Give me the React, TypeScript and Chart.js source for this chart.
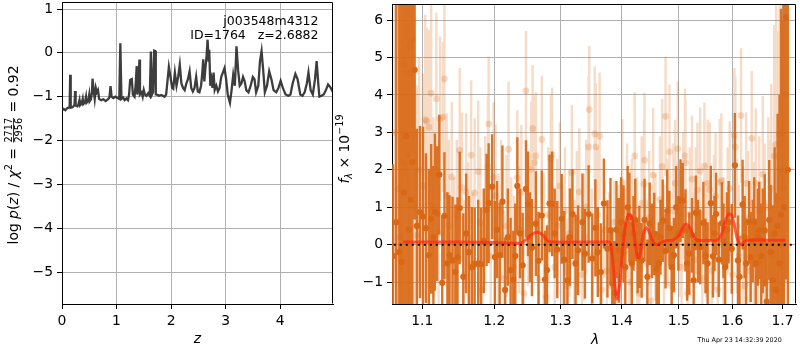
import React, { useEffect, useRef } from "react";
import { Chart, registerables } from "chart.js";
Chart.register(...registerables);

const FONT = "'DejaVu Sans', sans-serif";
const TICK_FONT = { family: FONT, size: 13.9 };

// ---------------- left panel: log p(z) ----------------
const zTicks = [0, 1, 2, 3, 4];
const logPTicks = [-5, -4, -3, -2, -1, 0, 1];
const zGrid = [
  0.0, 0.03, 0.06, 0.09, 0.12, 0.14, 0.15, 0.16, 0.19, 0.21,
  0.23, 0.24, 0.25, 0.28, 0.3, 0.32, 0.33, 0.36, 0.38, 0.39,
  0.42, 0.44, 0.45, 0.48, 0.5, 0.51, 0.53, 0.55, 0.56, 0.58,
  0.6, 0.62, 0.64, 0.66, 0.68, 0.72, 0.76, 0.8, 0.84, 0.87,
  0.89, 0.91, 0.94, 0.98, 1.02, 1.05, 1.07, 1.09, 1.12, 1.15,
  1.18, 1.21, 1.23, 1.25, 1.28, 1.3, 1.33, 1.35, 1.37, 1.38,
  1.4, 1.42, 1.43, 1.46, 1.48, 1.5, 1.52, 1.55, 1.58, 1.61,
  1.63, 1.65, 1.67, 1.69, 1.71, 1.72, 1.75, 1.78, 1.82, 1.85,
  1.88, 1.91, 1.93, 1.96, 1.99, 2.02, 2.04, 2.07, 2.1, 2.13,
  2.16, 2.19, 2.22, 2.25, 2.28, 2.31, 2.34, 2.37, 2.4, 2.43,
  2.46, 2.49, 2.52, 2.55, 2.57, 2.59, 2.61, 2.63, 2.65, 2.67,
  2.69, 2.7, 2.72, 2.74, 2.76, 2.78, 2.8, 2.83, 2.86, 2.89,
  2.92, 2.95, 2.98, 3.01, 3.04, 3.08, 3.11, 3.14, 3.17, 3.2,
  3.23, 3.26, 3.29, 3.32, 3.35, 3.38, 3.42, 3.46, 3.5, 3.53,
  3.56, 3.6, 3.63, 3.66, 3.69, 3.72, 3.76, 3.8, 3.84, 3.88,
  3.93, 3.97, 4.01, 4.05, 4.1, 4.15, 4.19, 4.23, 4.28, 4.32,
  4.37, 4.41, 4.45, 4.49, 4.52, 4.56, 4.6, 4.64, 4.67, 4.7,
  4.72, 4.76, 4.8, 4.84, 4.88, 4.92, 4.97,
];
const logPz = [
  -1.3, -1.28, -1.31, -1.27, -1.25, -1.24, -0.5, -1.25, -1.24, -1.22,
  -1.18, -0.87, -1.2, -1.22, -1.18, -1.08, -1.2, -1.16, -1.05, -1.17,
  -1.13, -1.0, -1.14, -1.1, -0.95, -1.1, -1.06, -0.9, -0.59, -0.85,
  -1.05, -0.8, -0.9, -0.85, -1.05, -1.08, -1.06, -1.1, -1.06, -1.02,
  -0.76, -1.0, -1.03, -1.0, -1.03, -1.05, 0.22, -1.05, -1.02, -1.08,
  -1.04, -1.08, -0.95, -0.62, -0.6, -0.95, -1.0, -0.75, -0.3, -0.95,
  -0.8, -0.15, -0.95, -0.9, -1.0, -0.85, -0.95, -0.98, -0.92, -0.98,
  0.03, -0.95, -0.9, 0.05, 0.04, -0.95, -0.96, -0.98, -0.96, -0.98,
  -1.0, -0.95, -0.7, -0.32, -0.55, -0.8, -0.82, -0.45, -0.75, -0.55,
  -0.27, -0.7, -0.8, -0.85, -0.7, -0.6, -0.42, -0.8, -0.88, -0.8,
  -0.55, -0.88, -0.9, -0.75, -0.5, -0.15, -0.65, -0.35, -0.1, 0.3,
  -0.2, 0.07, -0.75, -0.6, -0.8, -0.45, -0.85, -0.75, -0.88, -0.8,
  -0.55, -0.45, -0.35, -0.6, -0.95, -1.14, -0.85, -0.5, -0.75, 0.15,
  -0.4, -0.75, -0.7, -0.55, -0.65, -0.85, -0.9, -0.75, -0.55, -0.6,
  -0.9, -0.75, -0.2, 0.04, -0.4, -0.9, -0.75, -0.42, -0.6, -0.85,
  -0.9, -0.8, -0.64, -0.8, -0.95, -0.98, -0.95, -0.7, -0.48, -0.6,
  -0.95, -0.98, -0.9, -0.7, -0.45, -0.85, -0.95, -0.6, -0.19, -0.7,
  -1.0, -0.98, -0.95, -0.85, -0.72, -0.78, -0.9,
];

// ---------------- right panel: spectrum ----------------
const waveTicks = [1.1, 1.2, 1.3, 1.4, 1.5, 1.6, 1.7];
const fluxTicks = [-1, 0, 1, 2, 3, 4, 5, 6];

const darkWave = [
  1.062, 1.066, 1.07, 1.073, 1.076, 1.079, 1.082, 1.085, 1.087, 1.09,
  1.093, 1.097, 1.101, 1.105, 1.109, 1.112, 1.115, 1.117, 1.12, 1.123,
  1.127, 1.13, 1.134, 1.137, 1.141, 1.145, 1.148, 1.151, 1.156, 1.16,
  1.164, 1.168, 1.172, 1.177, 1.181, 1.185, 1.189, 1.192, 1.197, 1.201,
  1.204, 1.208, 1.212, 1.216, 1.22, 1.224, 1.228, 1.231, 1.234, 1.238,
  1.242, 1.247, 1.25, 1.253, 1.256, 1.262, 1.266, 1.271, 1.276, 1.279,
  1.283, 1.287, 1.291, 1.295, 1.302, 1.306, 1.311, 1.315, 1.319, 1.324,
  1.328, 1.335, 1.339, 1.345, 1.351, 1.356, 1.36, 1.365, 1.37, 1.376,
  1.381, 1.384, 1.388, 1.391, 1.395, 1.399, 1.403, 1.406, 1.41, 1.413,
  1.417, 1.42, 1.423, 1.427, 1.43, 1.434, 1.439, 1.444, 1.448, 1.452,
  1.456, 1.46, 1.464, 1.467, 1.471, 1.476, 1.479, 1.483, 1.487, 1.491,
  1.495, 1.499, 1.503, 1.507, 1.512, 1.515, 1.519, 1.524, 1.527, 1.531,
  1.535, 1.539, 1.545, 1.549, 1.553, 1.559, 1.563, 1.566, 1.569, 1.574,
  1.58, 1.583, 1.586, 1.59, 1.593, 1.599, 1.605, 1.611, 1.614, 1.62,
  1.624, 1.627, 1.633, 1.636, 1.64, 1.643, 1.646, 1.65, 1.653, 1.657,
  1.66, 1.664, 1.668, 1.673, 1.676, 1.68, 1.684, 1.687, 1.69, 1.694,
  1.697, 1.7, 1.703, 1.707, 1.711,
];
const darkFlux = [
  -0.3, 0.6, -0.2, -0.46, 1.4, 2.9, 0.4, 1.2, 2.2, 4.67,
  0.5, 0.87, 0.75, 0.44, -0.28, 0.69, 0.2, 0.87, 0.83, 1.87,
  -1.02, 0.77, -0.5, -0.28, -0.42, -0.73, -0.33, 0.98, -0.86, 0.3,
  -0.2, -0.6, -0.52, -0.5, -0.52, 0.1, 0.93, 1.11, 1.55, -0.33,
  0.4, -0.28, 1.15, -1.21, 0.2, -0.68, -0.93, -0.3, 1.57, 0.3,
  -0.55, 1.49, 1.09, 0.2, -0.08, 0.56, -0.43, 0.78, -0.93, -0.68,
  1.1, 1.09, 0.3, -0.13, 0.69, -0.4, -0.95, 0.2, 0.82, -0.5,
  -0.15, 0.6, -0.24, 0.82, -0.37, 0.45, -0.2, -0.73, 1.1, -0.11,
  0.38, -1.04, -1.3, 0.4, -0.15, 0.6, 0.29, -0.6, 1.0, 0.73,
  -0.5, 0.3, 0.66, -0.3, -0.06, -0.42, 0.66, -0.86, 0.56, 0.1,
  0.29, -0.64, -0.5, 0.2, 0.64, -0.17, 0.9, 0.44, -0.6, -0.28,
  1.0, 0.3, 1.18, 1.18, 0.38, -0.5, -0.24, 0.25, -0.95, 0.85,
  0.1, -0.06, 0.58, -0.3, -0.5, 1.11, -0.31, 0.3, 0.82, -0.4,
  0.57, 0.1, -0.6, 0.4, 0.6, -0.11, 2.12, -0.42, -0.86, 1.07,
  0.2, -0.5, 0.6, -0.33, 0.1, 0.6, -0.5, 0.2, 0.38, -0.3,
  0.1, 0.38, -1.52, 0.66, -0.2, -0.95, 0.3, -1.21, 0.5, -0.5,
  0.8, 0.0, 1.0, 6.07, 2.0,
];
const darkErr = [
  2.45, 6.5, 7.0, 7.5, 6.0, 5.0, 6.5, 5.5, 5.0, 4.0,
  2.6, 2.3, 2.4, 2.0, 2.3, 2.0, 1.9, 2.1, 1.8, 1.6,
  1.8, 1.7, 1.9, 1.6, 1.7, 1.8, 1.6, 1.5, 1.7, 1.6,
  1.5, 1.6, 1.5, 1.7, 1.5, 1.4, 1.5, 1.6, 1.4, 1.5,
  1.3, 1.4, 1.5, 1.4, 1.3, 1.4, 1.3, 1.4, 1.3, 1.2,
  1.4, 1.3, 1.4, 1.2, 1.3, 1.4, 1.3, 1.2, 1.3, 1.2,
  1.3, 1.4, 1.2, 1.3, 1.2, 1.3, 1.2, 1.3, 1.2, 1.3,
  1.2, 1.3, 1.2, 1.3, 1.2, 1.3, 1.2, 1.3, 1.2, 1.3,
  1.4, 1.5, 1.4, 1.3, 1.4, 1.2, 1.3, 1.2, 1.1, 1.2,
  1.1, 1.0, 1.1, 1.0, 1.1, 1.0, 1.1, 1.0, 1.1, 1.0,
  1.1, 1.0, 1.1, 1.0, 1.1, 1.0, 1.1, 1.0, 1.1, 1.0,
  1.1, 1.0, 1.1, 1.0, 1.1, 1.0, 1.1, 1.0, 1.1, 1.0,
  1.1, 1.0, 1.1, 1.0, 1.1, 1.0, 1.1, 1.0, 1.1, 1.0,
  1.1, 1.0, 1.1, 1.0, 1.1, 1.2, 1.4, 1.2, 1.1, 1.2,
  1.1, 1.2, 1.1, 1.2, 1.1, 1.2, 1.2, 1.3, 1.3, 1.4,
  1.4, 1.5, 1.6, 1.6, 1.8, 2.0, 2.3, 2.6, 3.0, 4.5,
  5.5, 6.0, 6.5, 7.0, 8.0,
];

const lightWave = [
  1.064, 1.068, 1.071, 1.074, 1.077, 1.08, 1.082, 1.083, 1.087, 1.09,
  1.093, 1.096, 1.101, 1.104, 1.106, 1.109, 1.112, 1.115, 1.119, 1.122,
  1.124, 1.128, 1.13, 1.133, 1.136, 1.14, 1.143, 1.147, 1.151, 1.154,
  1.157, 1.16, 1.163, 1.167, 1.17, 1.172, 1.177, 1.18, 1.183, 1.187,
  1.191, 1.192, 1.195, 1.199, 1.202, 1.206, 1.21, 1.214, 1.218, 1.221,
  1.225, 1.229, 1.234, 1.237, 1.24, 1.244, 1.247, 1.25, 1.255, 1.257,
  1.26, 1.262, 1.266, 1.271, 1.274, 1.278, 1.281, 1.285, 1.287, 1.291,
  1.295, 1.299, 1.303, 1.307, 1.311, 1.314, 1.318, 1.322, 1.326, 1.33,
  1.334, 1.338, 1.341, 1.345, 1.346, 1.35, 1.355, 1.357, 1.36, 1.363,
  1.367, 1.371, 1.375, 1.379, 1.383, 1.387, 1.391, 1.395, 1.398, 1.401,
  1.405, 1.409, 1.413, 1.417, 1.422, 1.426, 1.43, 1.434, 1.438, 1.439,
  1.443, 1.447, 1.45, 1.454, 1.458, 1.462, 1.466, 1.47, 1.473, 1.476,
  1.48, 1.483, 1.487, 1.49, 1.493, 1.498, 1.501, 1.505, 1.508, 1.511,
  1.512, 1.516, 1.52, 1.524, 1.528, 1.531, 1.534, 1.539, 1.543, 1.547,
  1.55, 1.553, 1.557, 1.561, 1.565, 1.568, 1.572, 1.576, 1.579, 1.583,
  1.587, 1.591, 1.595, 1.6, 1.604, 1.606, 1.609, 1.613, 1.617, 1.621,
  1.624, 1.627, 1.631, 1.634, 1.638, 1.642, 1.646, 1.65, 1.653, 1.657,
  1.66, 1.664, 1.667, 1.671, 1.674, 1.677, 1.68, 1.683, 1.687, 1.69,
  1.694, 1.697, 1.7, 1.703, 1.706,
];
const lightFlux = [
  3.0, 1.5, 0.2, 2.2, 4.8, 4.58, 2.42, 5.29, 5.47, 1.0,
  0.25, 2.0, 1.57, 3.34, 3.3, 3.14, 4.05, 1.0, 3.9, 0.3,
  3.36, 3.41, 4.43, 1.31, 0.5, 1.81, -0.4, 0.8, 2.52, 1.53,
  -0.8, 1.41, 0.2, 2.39, -0.5, 1.38, 1.95, 0.6, -1.2, 0.9,
  2.08, 3.23, -0.3, 1.8, 1.31, 0.1, 0.9, -0.9, 0.5, 2.55,
  0.0, -0.6, 1.79, 0.4, 1.4, -1.3, 4.11, 0.7, 2.02, 3.1,
  2.19, 2.37, -0.9, 2.81, 0.1, -1.4, 0.8, 2.31, 2.4, -0.6,
  0.5, 1.57, -0.2, 0.9, -1.1, 0.3, 1.93, -0.5, 0.7, 1.41,
  -0.8, 0.2, 1.0, 2.61, 3.61, -0.3, 2.96, 2.61, 0.8, 2.9,
  -1.2, 0.4, -0.7, 0.2, -1.1, 0.6, -0.4, 0.3, -0.9, 1.66,
  -0.2, 0.9, -1.0, 0.5, 2.37, 0.0, -1.3, 1.1, 1.62, 2.26,
  -0.5, 0.7, -1.5, 1.86, 0.2, -0.8, 1.2, 2.09, -0.1, 3.43,
  0.6, 2.48, -1.1, 0.9, 1.64, 2.56, 0.3, -0.6, 1.3, 2.37,
  2.19, -1.3, 0.8, 1.75, -0.4, 0.9, 1.46, 1.97, -0.9, 2.1,
  0.4, 1.64, 1.47, -0.7, 0.6, 1.3, -1.2, 1.66, 1.71, 0.1,
  -0.4, 0.9, 1.5, -0.8, 2.92, 2.61, 0.5, -0.3, 3.45, 0.2,
  -1.1, 1.64, 0.7, -0.7, 2.84, 0.3, 1.64, -0.9, 0.9, -0.4,
  1.88, 0.5, -1.0, 1.0, 0.3, 1.49, -0.3, 2.37, 2.68, 1.2,
  2.95, 2.0, 3.0, 1.5, 4.0,
];
const lightErr = [
  4.0, 5.0, 5.0, 5.0, 3.0, 3.0, 4.0, 3.0, 3.0, 3.5,
  4.0, 3.0, 3.0, 2.8, 2.5, 2.6, 2.5, 2.4, 2.3, 2.5,
  2.2, 2.0, 2.0, 2.2, 2.3, 2.0, 2.2, 2.0, 2.2, 2.0,
  2.0, 2.1, 2.0, 2.0, 1.9, 2.0, 1.9, 2.0, 1.8, 2.0,
  1.9, 1.8, 1.8, 2.0, 1.9, 1.8, 1.9, 1.8, 1.9, 1.8,
  1.8, 1.9, 1.8, 1.7, 1.8, 1.7, 1.6, 1.8, 1.8, 1.7,
  1.8, 1.7, 1.8, 1.7, 1.8, 1.7, 1.8, 1.7, 1.8, 1.7,
  1.8, 1.7, 1.8, 1.7, 1.8, 1.7, 1.8, 1.7, 1.8, 1.7,
  1.8, 1.7, 1.8, 1.9, 1.7, 1.8, 1.8, 1.7, 1.8, 1.7,
  1.6, 1.3, 1.5, 1.2, 1.5, 1.1, 1.4, 1.3, 1.6, 1.7,
  1.7, 1.8, 1.7, 1.8, 1.7, 1.8, 1.7, 1.8, 1.7, 1.8,
  1.7, 1.8, 1.7, 1.8, 1.7, 1.8, 1.7, 1.8, 1.7, 1.6,
  1.7, 1.8, 1.7, 1.8, 1.7, 1.8, 1.7, 1.8, 1.7, 1.8,
  1.7, 1.7, 1.8, 1.7, 1.8, 1.7, 1.8, 1.7, 1.8, 1.7,
  1.8, 1.7, 1.8, 1.7, 1.8, 1.7, 1.8, 1.7, 1.8, 1.7,
  1.8, 1.7, 1.8, 1.7, 1.8, 1.9, 1.8, 1.9, 1.8, 1.9,
  1.8, 1.9, 1.8, 1.9, 1.8, 1.9, 2.0, 2.0, 2.0, 2.1,
  2.1, 2.2, 2.2, 2.4, 2.5, 2.8, 3.0, 3.5, 4.0, 4.5,
  4.5, 5.5, 5.0, 6.0, 5.0,
];

const modelWave = [
  1.075, 1.1, 1.15, 1.2, 1.23, 1.24, 1.248, 1.256, 1.265, 1.273,
  1.28, 1.29, 1.33, 1.37, 1.38, 1.384, 1.388, 1.392, 1.396, 1.401,
  1.406, 1.411, 1.416, 1.421, 1.425, 1.429, 1.433, 1.438, 1.443, 1.448,
  1.454, 1.46, 1.467, 1.475, 1.49, 1.5, 1.507, 1.513, 1.52, 1.526,
  1.533, 1.55, 1.571, 1.58, 1.587, 1.593, 1.599, 1.605, 1.611, 1.617,
  1.623, 1.63, 1.67, 1.706,
];
const modelFlux = [
  0.07, 0.07, 0.07, 0.06, 0.04, 0.05, 0.15, 0.28, 0.33, 0.25,
  0.1, 0.07, 0.07, 0.07, 0.06, -0.3, -1.0, -1.45, -1.1, -0.2,
  0.5, 0.8, 0.78, 0.3, -0.2, -0.35, -0.1, 0.35, 0.45, 0.3,
  0.08, 0.0, 0.05, 0.1, 0.13, 0.25, 0.45, 0.55, 0.45, 0.25,
  0.12, 0.12, 0.12, 0.3, 0.65, 0.82, 0.78, 0.45, 0.1, 0.0,
  0.08, 0.12, 0.12, 0.12,
];
const zeroLevel = [0, 0];

const DARK = "rgb(217,104,22)";
const DARK_BAR = "rgba(217,104,22,0.92)";
const LIGHT = "rgba(217,104,22,0.24)";

const fmt = (v: number, d: number) => v.toFixed(d).replace("-", "\u2212");

function fixedAxis(size: number, horizontal: boolean) {
  return (scale: any) => {
    if (horizontal) scale.height = size;
    else scale.width = size;
    scale.paddingLeft = 0;
    scale.paddingRight = 0;
    scale.paddingTop = 0;
    scale.paddingBottom = 0;
  };
}

function axisStyle(extra: any) {
  return {
    grid: { color: "#b0b0b0", lineWidth: 1, tickLength: 5, tickColor: "#000", tickWidth: 1 },
    border: { color: "#000", width: 1 },
    ticks: { color: "#000", font: TICK_FONT, padding: 4, autoSkip: false, maxRotation: 0, minRotation: 0 },
    ...extra,
  };
}

type Piece = { t?: string; frac?: [string, string]; font: string; dy?: number };

function drawRich(ctx: CanvasRenderingContext2D, pieces: Piece[], cx: number, cy: number, vertical: boolean) {
  ctx.save();
  ctx.translate(cx, cy);
  if (vertical) ctx.rotate(-Math.PI / 2);
  ctx.fillStyle = "#000";
  ctx.textBaseline = "alphabetic";
  ctx.textAlign = "left";
  const widths = pieces.map((p) => {
    ctx.font = p.font;
    if (p.frac) return Math.max(ctx.measureText(p.frac[0]).width, ctx.measureText(p.frac[1]).width) + 2;
    return ctx.measureText(p.t || "").width;
  });
  const total = widths.reduce((a, b) => a + b, 0);
  let x = -total / 2;
  const base = 5;
  pieces.forEach((p, i) => {
    ctx.font = p.font;
    const w = widths[i];
    if (p.frac) {
      const mid = x + w / 2;
      const bar = base - 4.5;
      ctx.textAlign = "center";
      ctx.fillText(p.frac[0], mid, bar - 1.8);
      ctx.fillText(p.frac[1], mid, bar + 8.5);
      ctx.textAlign = "left";
      ctx.fillRect(x + 1, bar - 0.4, w - 2, 0.8);
    } else {
      ctx.fillText(p.t || "", x, base + (p.dy || 0));
    }
    x += w;
  });
  ctx.restore();
}

const N = `13.9px ${FONT}`;
const I = `italic 13.9px ${FONT}`;
const S = `9.7px ${FONT}`;
const SI = `italic 9.7px ${FONT}`;

const framePlugin = {
  id: "frame",
  afterDatasetsDraw(chart: any) {
    const { ctx, chartArea } = chart;
    const l = Math.round(chartArea.left) + 0.5;
    const t = Math.round(chartArea.top) + 0.5;
    const r = Math.round(chartArea.right) - 0.5;
    const b = Math.round(chartArea.bottom) - 0.5;
    ctx.save();
    ctx.strokeStyle = "#000";
    ctx.lineWidth = 1;
    ctx.beginPath();
    ctx.moveTo(l, t);
    ctx.lineTo(r, t);
    ctx.lineTo(r, b);
    ctx.stroke();
    ctx.restore();
  },
};

const leftText = {
  id: "leftText",
  afterDraw(chart: any) {
    const ctx = chart.ctx as CanvasRenderingContext2D;
    drawRich(ctx, [
      { t: "log ", font: N },
      { t: "p", font: I },
      { t: "(", font: N },
      { t: "z", font: I },
      { t: ") / ", font: N },
      { t: "\u03C7", font: I },
      { t: "2", font: S, dy: -6 },
      { t: " = ", font: N },
      { frac: ["2717", "2956"], font: S },
      { t: " = 0.92", font: N },
    ], 13, 155, true);
    drawRich(ctx, [{ t: "z", font: I }], 197.5, 338, false);
    ctx.save();
    ctx.fillStyle = "#000";
    ctx.font = `12.5px ${FONT}`;
    ctx.textAlign = "right";
    ctx.textBaseline = "alphabetic";
    ctx.fillText("j003548m4312", 318.5, 25);
    ctx.fillText("ID=1764   z=2.6882", 318.5, 39);
    ctx.restore();
  },
};

const rightText = {
  id: "rightText",
  afterDraw(chart: any) {
    const ctx = chart.ctx as CanvasRenderingContext2D;
    drawRich(ctx, [
      { t: "f", font: I },
      { t: "\u03BB", font: SI, dy: 3 },
      { t: " \u00D7 10", font: N },
      { t: "\u221219", font: S, dy: -6 },
    ], 344, 149, true);
    drawRich(ctx, [{ t: "\u03BB", font: I }], 595, 339, false);
    ctx.save();
    ctx.fillStyle = "#000";
    ctx.font = `6.4px ${FONT}`;
    ctx.textAlign = "left";
    ctx.textBaseline = "middle";
    ctx.fillText("Thu Apr 23 14:32:39 2020", 697.5, 340);
    ctx.restore();
  },
};

function errorSegments(w: number[], f: number[], e: number[]) {
  const out: any[] = [];
  for (let i = 0; i < w.length; i++) {
    out.push({ x: w[i], y: f[i] - e[i] });
    out.push({ x: w[i], y: f[i] + e[i] });
    out.push({ x: w[i], y: null });
  }
  return out;
}

const pts = (xs: number[], ys: number[]) => xs.map((x, i) => ({ x, y: ys[i] }));

export default function App() {
  const leftRef = useRef<HTMLCanvasElement>(null);
  const rightRef = useRef<HTMLCanvasElement>(null);

  useEffect(() => {
    const left = new Chart(leftRef.current!, {
      type: "scatter",
      data: {
        datasets: [
          {
            data: pts(zGrid, logPz),
            showLine: true,
            borderColor: "rgba(45,45,45,0.92)",
            borderWidth: 2.3,
            pointRadius: 0,
            tension: 0,
          } as any,
        ],
      },
      options: {
        animation: false,
        responsive: false,
        maintainAspectRatio: false,
        layout: { padding: { left: 0, top: 2, right: 467, bottom: 0 } },
        plugins: { legend: { display: false }, tooltip: { enabled: false } },
        events: [],
        scales: {
          x: axisStyle({
            type: "linear",
            min: 0,
            max: 4.97,
            afterBuildTicks: (s: any) => { s.ticks = zTicks.map((v) => ({ value: v })); },
            afterFit: fixedAxis(46, true),
            ticks: { color: "#000", font: TICK_FONT, padding: 4, autoSkip: false, maxRotation: 0, callback: (v: any) => fmt(Number(v), 0) },
          }),
          y: axisStyle({
            type: "linear",
            min: -5.73,
            max: 1.16,
            afterBuildTicks: (s: any) => { s.ticks = logPTicks.map((v) => ({ value: v })); },
            afterFit: fixedAxis(62, false),
            ticks: { color: "#000", font: TICK_FONT, padding: 4, autoSkip: false, callback: (v: any) => fmt(Number(v), 0) },
          }),
        },
      } as any,
      plugins: [framePlugin, leftText],
    });

    const right = new Chart(rightRef.current!, {
      type: "scatter",
      data: {
        datasets: [
          {
            data: pts(modelWave, modelFlux),
            showLine: true,
            borderColor: "rgba(255,40,20,0.72)",
            borderWidth: 3,
            pointRadius: 0,
            tension: 0.35,
            order: 0,
          },
          {
            data: pts([1.04, 1.76], zeroLevel),
            showLine: true,
            borderColor: "#000",
            borderWidth: 2,
            borderDash: [2, 4],
            pointRadius: 0,
            order: 1,
          },
          {
            data: pts(darkWave, darkFlux),
            pointRadius: 3.1,
            pointBackgroundColor: DARK,
            pointBorderWidth: 0,
            order: 2,
          },
          {
            data: errorSegments(darkWave, darkFlux, darkErr),
            showLine: true,
            spanGaps: false,
            borderColor: DARK_BAR,
            borderWidth: 2.4,
            borderCapStyle: "butt",
            pointRadius: 0,
            order: 3,
          },
          {
            data: pts(lightWave, lightFlux),
            pointRadius: 3.4,
            pointBackgroundColor: LIGHT,
            pointBorderWidth: 0,
            order: 4,
          },
          {
            data: errorSegments(lightWave, lightFlux, lightErr),
            showLine: true,
            spanGaps: false,
            borderColor: LIGHT,
            borderWidth: 2.4,
            borderCapStyle: "butt",
            pointRadius: 0,
            order: 5,
          },
        ] as any,
      },
      options: {
        animation: false,
        responsive: false,
        maintainAspectRatio: false,
        layout: { padding: { left: 0, top: 2, right: 2, bottom: 0 } },
        plugins: { legend: { display: false }, tooltip: { enabled: false } },
        events: [],
        scales: {
          x: axisStyle({
            type: "logarithmic",
            min: 1.0606,
            max: 1.728,
            afterBuildTicks: (s: any) => { s.ticks = waveTicks.map((v) => ({ value: v })); },
            afterFit: fixedAxis(46, true),
            ticks: { color: "#000", font: TICK_FONT, padding: 4, autoSkip: false, maxRotation: 0, callback: (v: any) => fmt(Number(v), 1) },
          }),
          y: axisStyle({
            type: "linear",
            min: -1.585,
            max: 6.43,
            afterBuildTicks: (s: any) => { s.ticks = fluxTicks.map((v) => ({ value: v })); },
            afterFit: fixedAxis(392, false),
            ticks: { color: "#000", font: TICK_FONT, padding: 4, autoSkip: false, callback: (v: any) => fmt(Number(v), 0) },
          }),
        },
      } as any,
      plugins: [framePlugin, rightText],
    });

    return () => {
      left.destroy();
      right.destroy();
    };
  }, []);

  const cs: React.CSSProperties = { position: "absolute", left: 0, top: 0, width: 800, height: 350 };
  return (
    <div style={{ position: "fixed", left: 0, top: 0, width: 800, height: 350, background: "#fff" }}>
      <canvas ref={leftRef} width={800} height={350} style={cs} />
      <canvas ref={rightRef} width={800} height={350} style={cs} />
    </div>
  );
}
